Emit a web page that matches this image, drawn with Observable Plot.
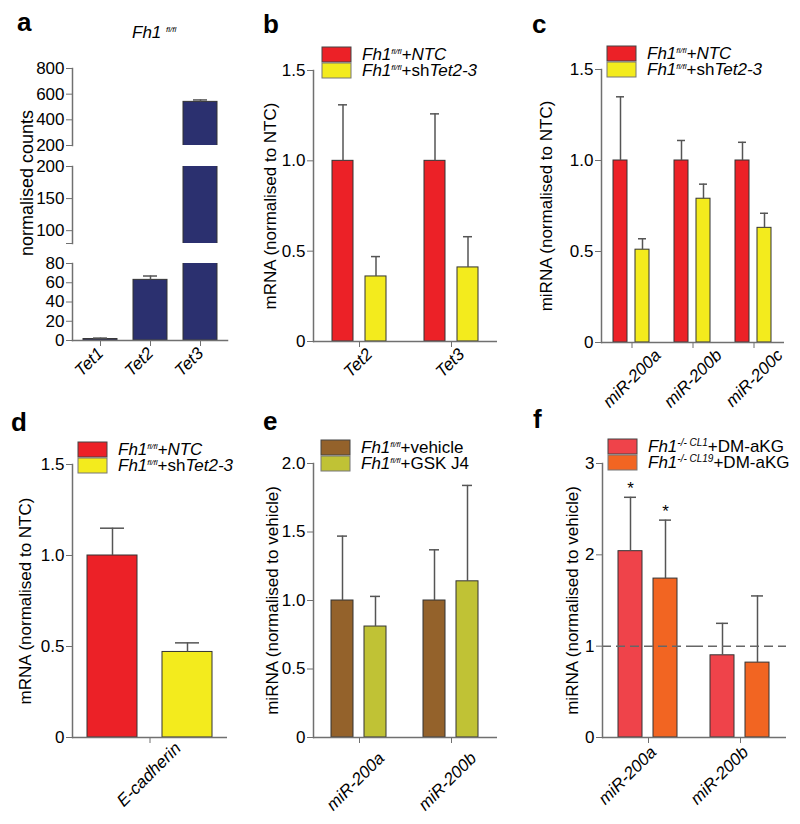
<!DOCTYPE html>
<html>
<head>
<meta charset="utf-8">
<script src="https://cdn.jsdelivr.net/npm/d3@7"></script>
<script src="https://cdn.jsdelivr.net/npm/@observablehq/plot@0.6"></script>
<style>
  html, body { margin: 0; padding: 0; background: #fff; }
  #fig { position: relative; width: 800px; height: 824px; overflow: hidden;
         font-family: "Liberation Sans", Arial, Helvetica, sans-serif; }
  .slot { position: absolute; }
  #overlay { position: absolute; left: 0; top: 0; pointer-events: none; }
</style>
</head>
<body>
<div id="fig"></div>
<script>
// ---------------- DATA ----------------
// Panel a: normalised counts, Fh1 fl/fl
const aGenes = ["Tet1", "Tet2", "Tet3"];
const aMean  = [1.5, 63, 540];
const aErr   = [2.5, 67, 555];
const aTopTicks = [200, 400, 600, 800];
const aMidTicks = [80, 100, 150, 200];
const aLowTicks = [0, 20, 40, 60, 80];

// Panel b: mRNA (normalised to NTC)
const bGenes = ["Tet2", "Tet3"];
const bNTC    = [1.00, 1.00];
const bNTCErr = [1.31, 1.26];
const bSh     = [0.36, 0.41];
const bShErr  = [0.47, 0.58];

// Panel c: miRNA (normalised to NTC)
const cMirs = ["miR-200a", "miR-200b", "miR-200c"];
const cNTC    = [1.00, 1.00, 1.00];
const cNTCErr = [1.35, 1.11, 1.10];
const cSh     = [0.51, 0.79, 0.63];
const cShErr  = [0.57, 0.87, 0.71];

// Panel d: mRNA (normalised to NTC)
const dGenes = ["E-cadherin"];
const dNTC    = [1.00];
const dNTCErr = [1.15];
const dSh     = [0.47];
const dShErr  = [0.52];

// Panel e: miRNA (normalised to vehicle)
const eMirs = ["miR-200a", "miR-200b"];
const eVeh    = [1.00, 1.00];
const eVehErr = [1.47, 1.37];
const eGsk    = [0.81, 1.14];
const eGskErr = [1.03, 1.84];

// Panel f: miRNA (normalised to vehicle)
const fMirs = ["miR-200a", "miR-200b"];
const fCL1     = [2.04, 0.90];
const fCL1Err  = [2.63, 1.25];
const fCL19    = [1.74, 0.82];
const fCL19Err = [2.38, 1.55];
const fCL1Sig  = ["*", ""];
const fCL19Sig = ["*", ""];

const tetSeries = ["NTC", "shTet2-3"];
const gskSeries = ["vehicle", "GSK J4"];
const dmSeries  = ["CL1", "CL19"];

// ---------------- STYLE ----------------
const FONT = '"Liberation Sans", Arial, Helvetica, sans-serif';
const AXIS = "#707070";
const EDGE = "#333333";
const ERRC = "#555555";
const NAVY = "#2b306f";
const RED = "#ec2127", YELLOW = "#f3eb1d";
const BROWN = "#94622b", OLIVE = "#c0c235";
const FRED = "#ef434a", FORANGE = "#f26522";

const fig = document.getElementById("fig");
function place(node, left, top) {
  const d = document.createElement("div");
  d.className = "slot";
  d.style.left = left + "px";
  d.style.top = top + "px";
  d.appendChild(node);
  fig.appendChild(d);
}
const fmt1 = d => d === 0 ? "0" : d.toFixed(1);

// ---------------- PANEL A (broken axis) ----------------
const aRows = aGenes.map((g, i) => ({g, v: aMean[i], e: aErr[i]}));
function segment({domain, ticks, tickFormat, height, mt, mb, showX}) {
  return Plot.plot({
    width: 260, height, marginLeft: 72, marginRight: 33, marginTop: mt, marginBottom: mb,
    style: {fontFamily: FONT, fontSize: "17px", background: "transparent", overflow: "visible", color: "#000"},
    x: {domain: aGenes, paddingInner: 0.32, paddingOuter: 0.21, axis: null},
    y: {domain},
    marks: [
      Plot.barY(aRows, {x: "g", y1: 0, y2: "v", fill: NAVY, stroke: EDGE, strokeWidth: 1, clip: true}),
      Plot.ruleX(aRows, {x: "g", y1: "v", y2: "e", stroke: ERRC, strokeWidth: 1.5, clip: true}),
      Plot.tickY(aRows, {x: "g", y: "e", stroke: ERRC, strokeWidth: 1.5, insetLeft: 10, insetRight: 10, clip: true}),
      Plot.frame({anchor: "left", stroke: AXIS, strokeWidth: 1.5}),
      showX ? Plot.frame({anchor: "bottom", stroke: AXIS, strokeWidth: 1.5}) : null,
      Plot.axisY({ticks, tickFormat, tickSize: 6, tickPadding: 2, stroke: AXIS, label: null, fontSize: 17}),
      showX ? Plot.axisX({tickRotate: -45, tickSize: 6, tickPadding: 4, stroke: AXIS, label: null, fontSize: 17, fontStyle: "italic"}) : null
    ]
  });
}
place(segment({domain: [200, 800], ticks: aTopTicks, tickFormat: d => d, height: 155, mt: 68, mb: 10}), 0, 0);
place(segment({domain: [80, 200], ticks: aMidTicks, tickFormat: d => d === 80 ? "" : d, height: 98, mt: 11, mb: 10}), 0, 155);
place(segment({domain: [0, 80], ticks: aLowTicks, tickFormat: d => d, height: 147, mt: 10, mb: 60, showX: true}), 0, 253);

// ---------------- GROUPED PANELS ----------------
function grouped(o) {
  const rows = o.groups.flatMap((g, i) => o.series.map((s, j) => ({
    g, s, v: o.values[j][i], e: o.errs[j][i], star: o.stars ? o.stars[j][i] : ""
  })));
  return Plot.plot({
    width: o.width, height: o.height,
    marginLeft: o.ml, marginRight: o.mr, marginTop: o.mt, marginBottom: o.mb,
    style: {fontFamily: FONT, fontSize: "17px", background: "transparent", overflow: "visible", color: "#000"},
    fx: {domain: o.groups, padding: 0, label: null},
    x: {domain: o.series, paddingInner: o.pi, paddingOuter: o.po, axis: null},
    y: {domain: o.yDomain},
    color: {domain: o.series, range: o.colors},
    marks: [
      Plot.barY(rows, {fx: "g", x: "s", y1: 0, y2: "v", fill: "s", stroke: EDGE, strokeWidth: 1}),
      Plot.ruleX(rows, {fx: "g", x: "s", y1: "v", y2: "e", stroke: ERRC, strokeWidth: 1.5}),
      Plot.tickY(rows, {fx: "g", x: "s", y: "e", stroke: ERRC, strokeWidth: 1.5, insetLeft: o.cap, insetRight: o.cap}),
      o.refLine != null ? Plot.ruleY([o.refLine], {stroke: "#666", strokeWidth: 1.5, strokeDasharray: "9,5"}) : null,
      o.stars ? Plot.text(rows, {fx: "g", x: "s", y: "e", text: "star", lineAnchor: "bottom", dy: -3, fontSize: 17}) : null,
      Plot.ruleY([o.yDomain[0]], {stroke: AXIS, strokeWidth: 1.5}),
      Plot.frame({anchor: "left", facetAnchor: "left", stroke: AXIS, strokeWidth: 1.5}),
      Plot.axisY({ticks: o.yTicks, tickFormat: o.tickFormat, tickSize: 6, tickPadding: 2, stroke: AXIS,
                  label: o.label, labelAnchor: "center", labelOffset: o.labelOffset, labelArrow: "none", fontSize: 17}),
      // tick marks only
      Plot.axisFx({anchor: "bottom", tickSize: 6, stroke: AXIS, fill: "none", label: null}),
      // rotated category labels, shifted like the reference
      Plot.axisFx({anchor: "bottom", tickRotate: -45, tickSize: 0, tickPadding: 10, label: null,
                   fontSize: 17, fontStyle: "italic", dx: o.labelDx, dy: o.labelDy || 0})
    ]
  });
}

// b
place(grouped({
  groups: bGenes, series: tetSeries, values: [bNTC, bSh], errs: [bNTCErr, bShErr], colors: [RED, YELLOW],
  width: 270, height: 400, ml: 53, mr: 33, mt: 70, mb: 59, pi: 0.353, po: 0.53, cap: 6,
  yDomain: [0, 1.5], yTicks: [0, 0.5, 1, 1.5], tickFormat: fmt1,
  label: "mRNA (normalised to NTC)", labelOffset: 50, labelDx: 10
}), 260, 0);

// c
place(grouped({
  groups: cMirs, series: tetSeries, values: [cNTC, cSh], errs: [cNTCErr, cShErr], colors: [RED, YELLOW],
  width: 270, height: 400, ml: 70, mr: 15, mt: 69, mb: 58, pi: 0.348, po: 0.515, cap: 3,
  yDomain: [0, 1.5], yTicks: [0, 0.5, 1, 1.5], tickFormat: fmt1,
  label: "miRNA (normalised to NTC)", labelOffset: 62, labelDx: 26
}), 530, 0);

// d
place(grouped({
  groups: dGenes, series: tetSeries, values: [dNTC, dSh], errs: [dNTCErr, dShErr], colors: [RED, YELLOW],
  width: 260, height: 424, ml: 72, mr: 33, mt: 64, mb: 87, pi: 0.33, po: 0.185, cap: 13,
  yDomain: [0, 1.5], yTicks: [0, 0.5, 1, 1.5], tickFormat: fmt1,
  label: "mRNA (normalised to NTC)", labelOffset: 54, labelDx: 28, labelDy: -2
}), 0, 400);

// e
place(grouped({
  groups: eMirs, series: gskSeries, values: [eVeh, eGsk], errs: [eVehErr, eGskErr], colors: [BROWN, OLIVE],
  width: 270, height: 424, ml: 53, mr: 33, mt: 63, mb: 87, pi: 0.324, po: 0.515, cap: 6,
  yDomain: [0, 2], yTicks: [0, 0.5, 1, 1.5, 2], tickFormat: fmt1,
  label: "miRNA (normalised to vehicle)", labelOffset: 48, labelDx: 22, labelDy: 8
}), 260, 400);

// f
place(grouped({
  groups: fMirs, series: dmSeries, values: [fCL1, fCL19], errs: [fCL1Err, fCL19Err], colors: [FRED, FORANGE],
  stars: [fCL1Sig, fCL19Sig], refLine: 1,
  width: 270, height: 424, ml: 72, mr: 14, mt: 63, mb: 87, pi: 0.314, po: 0.47, cap: 6,
  yDomain: [0, 3], yTicks: [0, 1, 2, 3], tickFormat: d => d,
  label: "miRNA (normalised to vehicle)", labelOffset: 37, labelDx: 5, labelDy: 2
}), 530, 400);

// ---------------- OVERLAY: letters, titles, legends ----------------
const ov = d3.select(fig).append("svg").attr("id", "overlay")
  .attr("width", 800).attr("height", 824)
  .style("font-family", FONT);

const letters = [["a", 17, 31], ["b", 263, 33], ["c", 532, 33], ["d", 11, 431], ["e", 263, 430], ["f", 533, 428]];
ov.selectAll("text.letter").data(letters).join("text").attr("class", "letter")
  .attr("x", d => d[1]).attr("y", d => d[2]).attr("font-size", 26).attr("font-weight", "bold").text(d => d[0]);

function richText(sel, x, y, parts, size) {
  const t = sel.append("text").attr("x", x).attr("y", y).attr("font-size", size).attr("fill", "#000");
  let raised = false;
  for (const [txt, kind, supSize] of parts) {
    const s = t.append("tspan").text(txt);
    if (kind.includes("i")) s.attr("font-style", "italic");
    if (kind.includes("sup")) {
      s.attr("font-size", supSize || 9).attr("dy", raised ? 0 : -6);
      raised = true;
    } else if (raised) {
      s.attr("dy", 6);
      raised = false;
    }
  }
  return t;
}

// panel a title and y label
richText(ov, 132, 38, [["Fh1", "i"], [" ", " "], ["fl/fl", "sup i", 8]], 17);
ov.append("text").attr("transform", "translate(27,183) rotate(-90)")
  .attr("text-anchor", "middle").attr("dominant-baseline", "central")
  .attr("font-size", 18).text("normalised counts");

function legend(x, y, items) {
  items.forEach((it, k) => {
    ov.append("rect").attr("x", x).attr("y", y + k * 16).attr("width", 29).attr("height", 15)
      .attr("fill", it.color).attr("stroke", k === 0 ? "#444" : "#777").attr("stroke-width", 1);
    richText(ov, x + 40, y + 13 + k * 16, it.parts, 17);
  });
}
const ntcParts = [["Fh1", "i"], ["fl/fl", "sup i", 8], ["+NTC", "i"]];
const shParts  = [["Fh1", "i"], ["fl/fl", "sup i", 8], ["+sh", ""], ["Tet2-3", "i"]];
legend(322, 47, [{color: RED, parts: ntcParts}, {color: YELLOW, parts: shParts}]);
legend(607, 46, [{color: RED, parts: ntcParts}, {color: YELLOW, parts: shParts}]);
legend(78, 442, [{color: RED, parts: ntcParts}, {color: YELLOW, parts: shParts}]);
legend(321, 440, [
  {color: BROWN, parts: [["Fh1", "i"], ["fl/fl", "sup i", 8], ["+vehicle", ""]]},
  {color: OLIVE, parts: [["Fh1", "i"], ["fl/fl", "sup i", 8], ["+GSK J4", ""]]}
]);
legend(608, 439, [
  {color: FRED, parts: [["Fh1", "i"], ["-/- CL1", "sup i", 10], ["+DM-aKG", ""]]},
  {color: FORANGE, parts: [["Fh1", "i"], ["-/- CL19", "sup i", 10], ["+DM-aKG", ""]]}
]);
</script>
</body>
</html>
